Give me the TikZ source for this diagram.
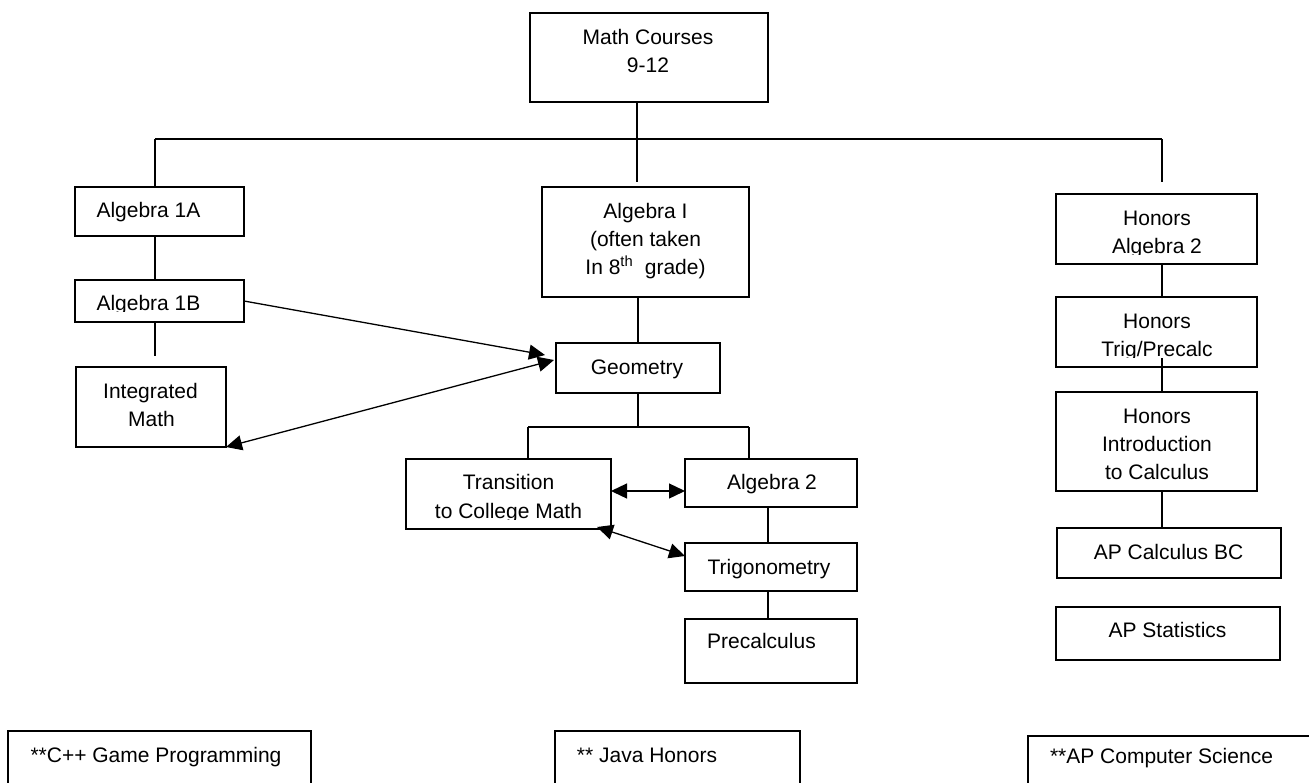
\documentclass[tikz,border=0pt]{standalone}
\usepackage{fontspec}
\setmainfont{Liberation Sans}
\usetikzlibrary{arrows.meta,calc}
\tikzset{
  box/.style={draw=black, line width=1.3pt, rectangle, inner sep=0pt, outer sep=0pt, anchor=north west},
  txt/.style={inner sep=0pt, outer sep=0pt, anchor=base, font=\fontsize{21}{25}\selectfont},
  conn/.style={line width=1.3pt},
  arr/.style={line width=1.3pt, -{Triangle[length=16pt,width=15pt]}},
  darr/.style={line width=1.3pt, {Triangle[length=16pt,width=15pt]}-{Triangle[length=16pt,width=15pt]}}
}
\begin{document}
\begin{tikzpicture}[x=1pt,y=-1pt]
\useasboundingbox (0,0) rectangle (1309,782);
\begin{scope}
\clip (0,0) rectangle (1309,782);
% boxes
\node[box, minimum width=238pt, minimum height=89pt] (math) at (530,13) {};
\node[box, minimum width=169pt, minimum height=49pt] (a1a) at (75,187) {};
\node[box, minimum width=169pt, minimum height=42pt] (a1b) at (75,280) {};
\node[box, minimum width=150pt, minimum height=80pt] (im) at (76,367) {};
\node[box, minimum width=207pt, minimum height=110pt] (algI) at (542,187) {};
\node[box, minimum width=164pt, minimum height=50pt] (geo) at (556,343) {};
\node[box, minimum width=205pt, minimum height=70pt] (trans) at (406,459) {};
\node[box, minimum width=172pt, minimum height=48pt] (alg2) at (685,459) {};
\node[box, minimum width=172pt, minimum height=48pt] (trig) at (685,543) {};
\node[box, minimum width=172pt, minimum height=64pt] (pre) at (685,619) {};
\node[box, minimum width=201pt, minimum height=70pt] (ha2) at (1056,194) {};
\node[box, minimum width=201pt, minimum height=70pt] (htp) at (1056,297) {};
\node[box, minimum width=201pt, minimum height=99pt] (hic) at (1056,392) {};
\node[box, minimum width=224pt, minimum height=50pt] (apc) at (1057,528) {};
\node[box, minimum width=224pt, minimum height=53pt] (aps) at (1056,607) {};
\node[box, minimum width=303pt, minimum height=80pt] (cpp) at (8,731) {};
\node[box, minimum width=245pt, minimum height=80pt] (java) at (555,731) {};
\node[box, minimum width=300pt, minimum height=80pt] (apcs) at (1028,736) {};
\end{scope}

% texts
\node[txt] (tmath1) at (648,44) {Math Courses};
\node[txt] (tmath2) at (648,72) {9-12};
\node[txt] (ta1a) at (148.5,217) {Algebra 1A};
\begin{scope}
\clip (0,0) rectangle (1309,311);
\node[txt] (ta1b) at (148.5,310) {Algebra 1B};
\end{scope}
\node[txt] (tim1) at (150.5,398) {Integrated};
\node[txt] (tim2) at (151.5,426) {Math};
\node[txt] (talgI1) at (645.5,218) {Algebra I};
\node[txt] (talgI2) at (645.5,246) {(often taken};
\node[txt] (talgI3) at (645.5,274) {In 8\textsuperscript{th}\ \ grade)};
\node[txt] (tgeo) at (637,374) {Geometry};
\node[txt] (ttrans1) at (508.5,489) {Transition};
\begin{scope}
\clip (0,0) rectangle (1309,519);
\node[txt] (ttrans2) at (508.5,518) {to College Math};
\end{scope}
\node[txt] (talg2) at (772,489) {Algebra 2};
\node[txt] (ttrig) at (769,574) {Trigonometry};
\node[txt] (tpre) at (761.5,648) {Precalculus};
\node[txt] (tha21) at (1157,225) {Honors};
\begin{scope}
\clip (0,0) rectangle (1309,254);
\node[txt] (tha22) at (1157,253) {Algebra 2};
\end{scope}
\node[txt] (thtp1) at (1157,328) {Honors};
\begin{scope}
\clip (0,0) rectangle (1309,357);
\node[txt] (thtp2) at (1157,356) {Trig/Precalc};
\end{scope}
\node[txt] (thic1) at (1157,423) {Honors};
\node[txt] (thic2) at (1157,451) {Introduction};
\node[txt] (thic3) at (1157,479) {to Calculus};
\node[txt] (tapc) at (1168.5,559) {AP Calculus BC};
\node[txt] (taps) at (1167.5,637) {AP Statistics};
\node[txt] (tcpp) at (156,762) {**C++ Game Programming};
\node[txt] (tjava) at (647,762) {** Java Honors};
\node[txt] (tapcs) at (1161.5,763) {**AP Computer Science};

% connector points
\coordinate (busL) at (155,139);
\coordinate (busM) at (637,139);
\coordinate (busR) at (1162,139);
\coordinate (mEnd) at (637,182);
\coordinate (rEnd) at (1162,182);
\coordinate (lEnd) at (155,356);
\coordinate (gBus) at (638,427);
\coordinate (gBusL) at (528,427);
\coordinate (gBusR) at (749,427);
\coordinate (vX) at (768,0);
\coordinate (hX) at (1162,0);
\coordinate (htpIn) at (1162,358);
\coordinate (ar1) at (0,491);

% tree lines
\draw[conn] (busL) -- (busR);
\draw[conn] (busM |- math.south) -- (mEnd);
\draw[conn] (busL) -- (busL |- a1a.north);
\draw[conn] (busR) -- (rEnd);
\draw[conn] (a1a.south -| busL) -- (a1b.north -| busL);
\draw[conn] (a1b.south -| busL) -- (lEnd);
\draw[conn] (geo.north |- algI.south) -- (geo.north);
\draw[conn] (geo.south) -- (gBus);
\draw[conn] (gBusL) -- (gBusR);
\draw[conn] (gBusL) -- (gBusL |- trans.north);
\draw[conn] (gBusR) -- (gBusR |- alg2.north);
\draw[conn] (alg2.south -| vX) -- (trig.north -| vX);
\draw[conn] (trig.south -| vX) -- (pre.north -| vX);
\draw[conn] (ha2.south -| hX) -- (htp.north -| hX);
\draw[conn] (htpIn) -- (hic.north -| hX);
\draw[conn] (hic.south -| hX) -- (apc.north -| hX);

% arrows
\draw[arr] (a1b.east) -- ($(geo.north west)+(-11,12)$);
\draw[darr] (im.south east) -- ($(geo.north west)+(-2,17)$);
\draw[darr] (trans.east |- ar1) -- (alg2.west |- ar1);
\draw[darr] ($(trans.south east)+(-14,-2)$) -- ($(trig.north west)+(0,13)$);
\end{tikzpicture}
\end{document}
